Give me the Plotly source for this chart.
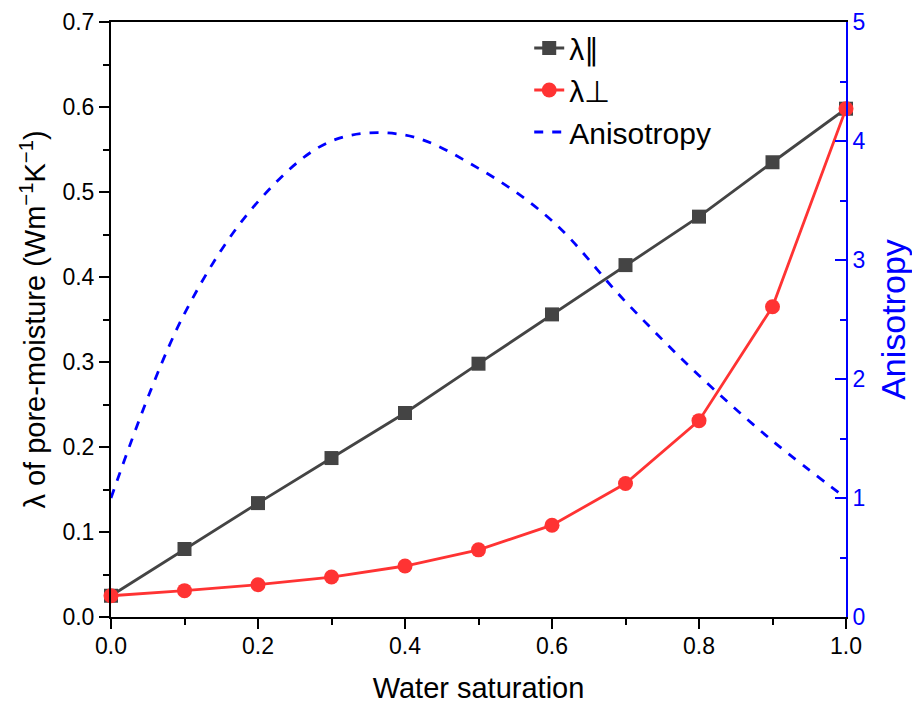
import plotly.graph_objects as go

saturation = [0.0, 0.1, 0.2, 0.3, 0.4, 0.5, 0.6, 0.7, 0.8, 0.9, 1.0]
lam_par = [0.025, 0.080, 0.134, 0.187, 0.240, 0.298, 0.356, 0.414, 0.471, 0.535, 0.598]
lam_perp = [0.025, 0.031, 0.038, 0.047, 0.060, 0.079, 0.108, 0.157, 0.231, 0.365, 0.598]
anisotropy = [1.0, 2.55, 3.49, 4.0, 4.05, 3.77, 3.33, 2.65, 2.03, 1.48, 1.0]

fig = go.Figure()
fig.add_trace(go.Scatter(
    x=saturation, y=lam_par, name="λ∥", mode="lines+markers",
    line=dict(color="#444444", width=2.8),
    marker=dict(symbol="square", size=14, color="#444444"),
    cliponaxis=False))
fig.add_trace(go.Scatter(
    x=saturation, y=lam_perp, name="λ⊥", mode="lines+markers",
    line=dict(color="#FF3333", width=2.8),
    marker=dict(symbol="circle", size=15, color="#FF3333"),
    cliponaxis=False))
fig.add_trace(go.Scatter(
    x=saturation, y=anisotropy, name="Anisotropy", mode="lines",
    line=dict(color="#0000FF", width=2.8, dash="dash", shape="spline", smoothing=1.0),
    yaxis="y2"))

font_family = "Liberation Sans, Arial, sans-serif"
fig.update_layout(
    width=920, height=709,
    margin=dict(l=103, r=82, t=14, b=100),
    paper_bgcolor="white", plot_bgcolor="white",
    font=dict(family=font_family, size=23, color="black"),
    showlegend=True,
    legend=dict(x=0.569, y=1.0, xanchor="left", yanchor="top",
                bgcolor="rgba(0,0,0,0)", font=dict(size=30),
                tracegroupgap=0),
    xaxis=dict(
        range=[0, 1], tickvals=[0, 0.2, 0.4, 0.6, 0.8, 1.0],
        ticktext=["0.0", "0.2", "0.4", "0.6", "0.8", "1.0"],
        ticks="outside", ticklen=10, tickwidth=2, tickcolor="black",
        minor=dict(tickvals=[0.1, 0.3, 0.5, 0.7, 0.9], ticks="outside",
                   ticklen=6, tickwidth=2, tickcolor="black"),
        showline=True, linecolor="black", linewidth=2, mirror=True,
        showgrid=False, zeroline=False, automargin=False,
        ticklabelstandoff=-3,
        title=dict(text="Water saturation", font=dict(size=29), standoff=20),
        tickfont=dict(size=23)),
    yaxis=dict(
        range=[0, 0.7], tickvals=[0, 0.1, 0.2, 0.3, 0.4, 0.5, 0.6, 0.7],
        ticktext=["0.0", "0.1", "0.2", "0.3", "0.4", "0.5", "0.6", "0.7"],
        ticks="outside", ticklen=10, tickwidth=2, tickcolor="black",
        minor=dict(tickvals=[0.05, 0.15, 0.25, 0.35, 0.45, 0.55, 0.65],
                   ticks="outside", ticklen=6, tickwidth=2, tickcolor="black"),
        showline=True, linecolor="black", linewidth=2, mirror=False,
        showgrid=False, zeroline=False, automargin=False,
        title=dict(text="λ of pore-moisture (Wm<sup>−1</sup>K<sup>−1</sup>)",
                   font=dict(size=29), standoff=8),
        tickfont=dict(size=23)),
    yaxis2=dict(
        range=[0, 5], overlaying="y", side="right",
        tickvals=[0, 1, 2, 3, 4, 5],
        ticks="inside", ticklen=11, tickwidth=2, tickcolor="#0000FF",
        minor=dict(tickvals=[0.5, 1.5, 2.5, 3.5, 4.5], ticks="inside",
                   ticklen=6, tickwidth=2, tickcolor="#0000FF"),
        showline=True, linecolor="#0000FF", linewidth=2,
        showgrid=False, zeroline=False, automargin=False,
        tickfont=dict(size=23, color="#0000FF"),
        title=dict(text="Anisotropy", font=dict(size=34, color="#0000FF"), standoff=17)),
)

fig.write_html("out.html")
